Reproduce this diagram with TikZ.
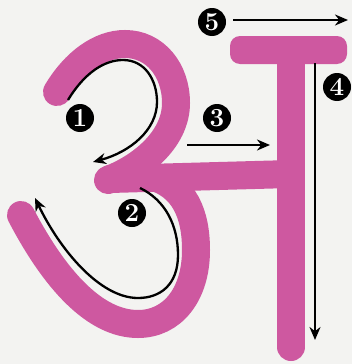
\documentclass[tikz,border=0pt]{standalone}
\usetikzlibrary{arrows.meta}
\definecolor{letterpink}{RGB}{206,88,160}
\definecolor{paper}{RGB}{243,243,241}
\begin{document}
\begin{tikzpicture}[x=1pt,y=-1pt,
    stroke/.style={draw=letterpink, line width=28pt, line cap=round},
    guide/.style={line width=2.3pt, -{Stealth[length=13pt,width=11pt]}},
    num/.style={circle, fill=black, text=white, inner sep=0pt, minimum size=28pt,
        font=\fontsize{26}{26}\selectfont\bfseries}]
    % Paper
    \fill[paper] (0,0) rectangle (352,364);
    \useasboundingbox (0,0) rectangle (352,364);

    % Upper bowl of the letter, ending in the middle tip
    \draw[stroke] (57,92) .. controls (75,62) and (100,44) .. (125,44)
        .. controls (155,44) and (176,70) .. (176,103)
        .. controls (176,140) and (140,168) .. (108,180);
    % Lower bowl
    \draw[stroke] (150,176) .. controls (185,185) and (196,215) .. (196,250)
        .. controls (196,295) and (172,324) .. (138,324)
        .. controls (95,324) and (55,280) .. (21,215);
    % Cross bar to the stem
    \draw[stroke] (110,179) -- (291,174);
    % Stem and head line
    \draw[stroke] (291,52) -- (291,347);
    \fill[letterpink, rounded corners=10pt] (230,36) rectangle (347,64);

    % Guide points
    \coordinate (a1) at (68,100);
    \coordinate (b1) at (93,162);
    \coordinate (a2) at (140,188);
    \coordinate (b2) at (35,198);
    \coordinate (a3) at (187,145);
    \coordinate (b3) at (270,145);
    \coordinate (a4) at (315,63);
    \coordinate (b4) at (315,340);
    \coordinate (a5) at (233,20);
    \coordinate (b5) at (348,20);

    % Stroke order arrows
    \draw[guide] (a1) .. controls (85,72) and (105,60) .. (123,60)
        .. controls (145,60) and (157,80) .. (157,102)
        .. controls (157,130) and (130,152) .. (b1);
    \draw[guide] (a2) .. controls (165,200) and (178,225) .. (178,255)
        .. controls (178,285) and (160,298) .. (138,298)
        .. controls (100,298) and (60,250) .. (b2);
    \draw[guide] (a3) -- (b3);
    \draw[guide] (a4) -- (b4);
    \draw[guide] (a5) -- (b5);

    % Step numbers
    \node[num] (n1) at (80,118) {1};
    \node[num] (n2) at (132,213) {2};
    \node[num] (n3) at (217,118) {3};
    \node[num] (n4) at (337,87) {4};
    \node[num] (n5) at (212,22) {5};
\end{tikzpicture}
\end{document}
